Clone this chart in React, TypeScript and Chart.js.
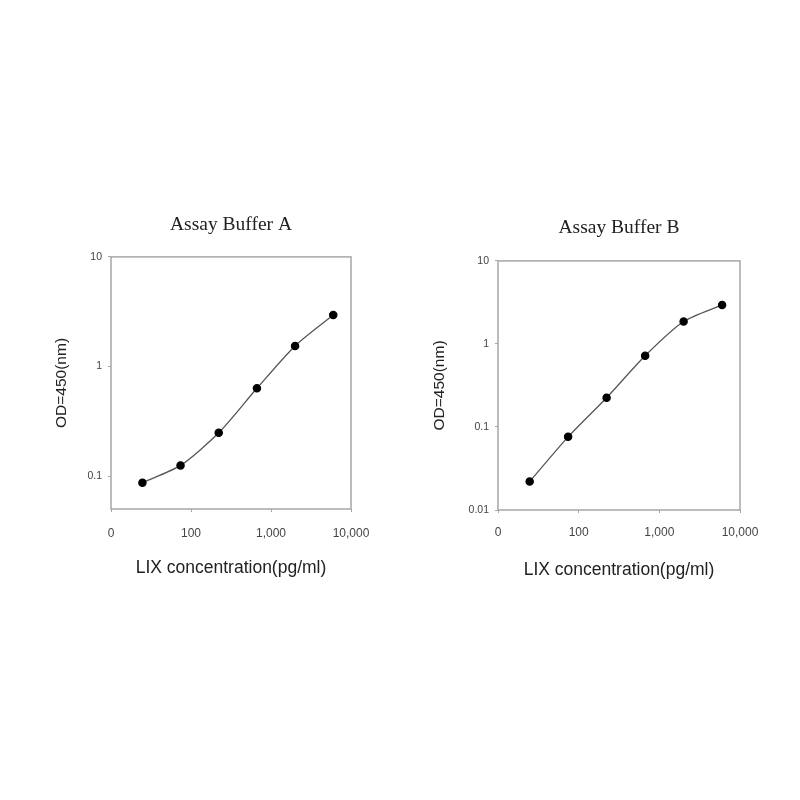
import { useEffect, useRef } from "react";
import { Chart, registerables } from "chart.js";
import type { Plugin } from "chart.js";

Chart.register(...registerables);

// pg/ml standards (3-fold dilution series)
const concentrations = [24.7, 74, 222, 667, 2000, 6000];
const odBufferA = [0.087, 0.125, 0.248, 0.632, 1.54, 2.95];
const odBufferB = [0.022, 0.076, 0.225, 0.72, 1.86, 2.95];

const xTickValues = [10, 100, 1000, 10000];
const xTickLabels = ["0", "100", "1,000", "10,000"];
const yTicksA = [0.1, 1, 10];
const yTickLabelsA = ["0.1", "1", "10"];
const yTicksB = [0.01, 0.1, 1, 10];
const yTickLabelsB = ["0.01", "0.1", "1", "10"];

const frameColor = "#a6a6a6";

// draws the grey box round the plot area
const framePlugin: Plugin = {
  id: "frame",
  afterDraw(chart) {
    const { ctx, chartArea } = chart;
    ctx.save();
    ctx.strokeStyle = frameColor;
    ctx.lineWidth = 1.5;
    ctx.strokeRect(chartArea.left, chartArea.top, chartArea.right - chartArea.left, chartArea.bottom - chartArea.top);
    ctx.restore();
  },
};

type PanelProps = {
  title: string;
  values: number[];
  yMin: number;
  yTicks: number[];
  yLabels: string[];
  left: number;
  layout: {
    yWidth: number;
    xHeight: number;
    right: number;
    titleTop: number;
    titleBottom: number;
    yTitlePad: number;
    xTitlePad: number;
    xTickPad: number;
  };
};

const ElisaPanel = ({ title, values, yMin, yTicks, yLabels, left, layout }: PanelProps) => {
  const canvasRef = useRef<HTMLCanvasElement | null>(null);

  useEffect(() => {
    if (!canvasRef.current) return;

    const chart = new Chart(canvasRef.current, {
      type: "scatter",
      data: {
        datasets: [
          {
            data: concentrations.map((c, i) => ({ x: c, y: values[i] })),
            showLine: true,
            borderColor: "#555555",
            borderWidth: 1.3,
            tension: 0.25,
            pointRadius: 3.6,
            pointBackgroundColor: "#000000",
            pointBorderColor: "#000000",
          },
        ],
      },
      options: {
        responsive: false,
        animation: false,
        layout: { padding: { left: 0, right: layout.right, top: 0, bottom: 0 } },
        plugins: {
          legend: { display: false },
          tooltip: { enabled: false },
          title: {
            display: true,
            fullSize: false, // centre over the plot box, not the canvas
            text: title,
            color: "#222222",
            font: { family: "'Liberation Serif', 'Times New Roman', serif", size: 19.5, weight: "normal" },
            padding: { top: layout.titleTop, bottom: layout.titleBottom },
          },
        },
        scales: {
          x: {
            type: "logarithmic",
            min: 10,
            max: 10000,
            afterFit: (scale) => {
              scale.height = layout.xHeight;
            },
            afterBuildTicks: (scale) => {
              scale.ticks = xTickValues.map((v) => ({ value: v }));
            },
            border: { display: false },
            grid: { drawOnChartArea: false, drawTicks: true, tickLength: 3, color: frameColor },
            ticks: {
              color: "#444444",
              font: { family: "'Liberation Sans', Arial, sans-serif", size: 12 },
              padding: layout.xTickPad,
              maxRotation: 0,
              autoSkip: false,
              callback: (value) => xTickLabels[xTickValues.indexOf(Number(value))] ?? "",
            },
            title: {
              display: true,
              text: "LIX concentration(pg/ml)",
              color: "#222222",
              font: { family: "'Liberation Sans', Arial, sans-serif", size: 17.5 },
              padding: { top: 0, bottom: layout.xTitlePad },
            },
          },
          y: {
            type: "logarithmic",
            min: yMin,
            max: 10,
            afterFit: (scale) => {
              scale.width = layout.yWidth;
            },
            afterBuildTicks: (scale) => {
              scale.ticks = yTicks.map((v) => ({ value: v }));
            },
            border: { display: false },
            grid: { drawOnChartArea: false, drawTicks: true, tickLength: 3, color: frameColor },
            ticks: {
              color: "#444444",
              font: { family: "'Liberation Sans', Arial, sans-serif", size: 10.5 },
              padding: 6,
              autoSkip: false,
              callback: (value) => yLabels[yTicks.indexOf(Number(value))] ?? "",
            },
            title: {
              display: true,
              text: "OD=450(nm)",
              color: "#222222",
              font: { family: "'Liberation Sans', Arial, sans-serif", size: 15.5 },
              padding: { top: layout.yTitlePad, bottom: 0 },
            },
          },
        },
      },
      plugins: [framePlugin],
    });

    return () => {
      chart.destroy();
    };
  }, [title, values, yMin, yTicks, yLabels, layout]);

  return (
    <div style={{ position: "absolute", left, top: 200, width: 344, height: 390 }}>
      <canvas ref={canvasRef} width={344} height={390}></canvas>
    </div>
  );
};

const layoutA = { yWidth: 71, xHeight: 81, right: 33, titleTop: 13, titleBottom: 20.5, yTitlePad: 12.5, xTitlePad: 11, xTickPad: 14 };
const layoutB = { yWidth: 68, xHeight: 80, right: 34, titleTop: 16, titleBottom: 21.5, yTitlePad: 0.5, xTitlePad: 9, xTickPad: 12 };

export default function App() {
  return (
    <div style={{ position: "absolute", left: 0, top: 0, width: 800, height: 800, background: "#ffffff" }}>
      <ElisaPanel
        title="Assay Buffer A"
        values={odBufferA}
        yMin={0.05}
        yTicks={yTicksA}
        yLabels={yTickLabelsA}
        left={40}
        layout={layoutA}
      />
      <ElisaPanel
        title="Assay Buffer B"
        values={odBufferB}
        yMin={0.01}
        yTicks={yTicksB}
        yLabels={yTickLabelsB}
        left={430}
        layout={layoutB}
      />
    </div>
  );
}
